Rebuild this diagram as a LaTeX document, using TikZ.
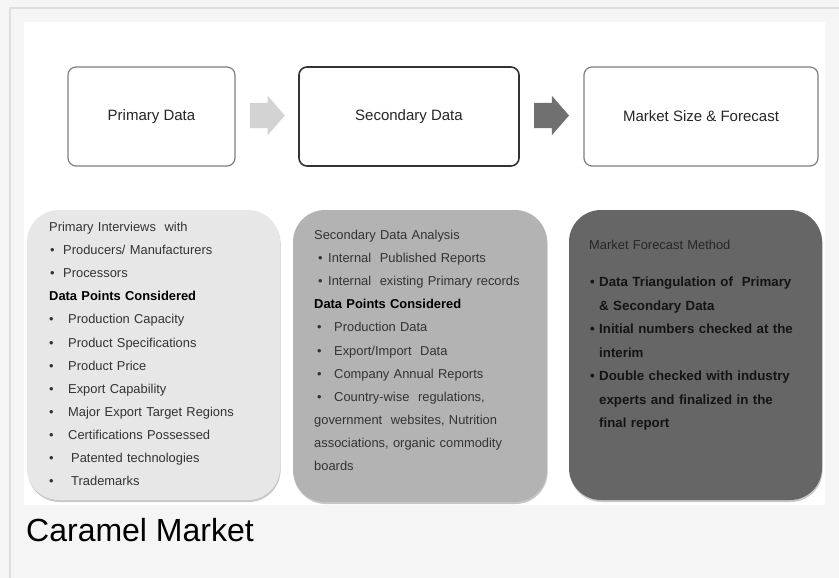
\documentclass[tikz,border=0pt]{standalone}
\usepackage{fontspec}
\setmainfont{Liberation Sans}
\usetikzlibrary{shapes.arrows,shadows,calc}
\definecolor{pagegray}{HTML}{F5F5F5}
\definecolor{framegray}{HTML}{DEDEDE}
\definecolor{edgegray}{HTML}{7F7F7F}
\definecolor{edgedark}{HTML}{333333}
\definecolor{panelone}{HTML}{E7E7E7}
\definecolor{paneltwo}{HTML}{B3B3B3}
\definecolor{panelthree}{HTML}{666666}
\definecolor{arrowlight}{HTML}{D3D3D3}
\definecolor{arrowdark}{HTML}{707070}
\definecolor{inkgray}{HTML}{333333}
\newcommand{\blt}[2]{\makebox[#1][l]{•}#2}

\begin{document}
\begin{tikzpicture}[x=1pt,y=-1pt,
  stage/.style={draw=#1,rounded corners=8pt,line width=1.2pt,fill=white,minimum height=99pt,inner sep=0pt,font=\fontsize{15}{18}\selectfont,text=black!85},
  panel/.style={fill=#1,rounded corners=32pt,inner sep=0pt,drop shadow={shadow xshift=0.6pt,shadow yshift=-2pt,fill=black,opacity=0.22}},
  paneltext/.style={anchor=base west,inner sep=0pt,align=left,text width=#1,font=\fontsize{12.9}{23.1}\selectfont,text=inkgray},
  blockarrow/.style={single arrow,fill=#1,anchor=tail,minimum height=35pt,inner xsep=0pt,inner ysep=12.5pt,text height=0pt,text depth=0pt,single arrow head extend=7pt,single arrow tip angle=98}]

  \useasboundingbox (0,0) rectangle (839,578);
  \fill [pagegray] (0,0) rectangle (839,578);
  \draw [framegray,line width=1.5pt] (10,578) -- (10,8) -- (839,8);
  \fill [white] (24,22) rectangle (825,505);

  \node [stage=edgegray,minimum width=167pt] (primary) at (151.5,116.5) {Primary Data};
  \node [stage=edgedark,line width=1.6pt,minimum width=220pt] (secondary) at (409,116.5) {Secondary Data};
  \node [stage=edgegray,minimum width=234pt] (market) at (701,116.5) {Market Size \& Forecast};
  \node [blockarrow=arrowlight] (arrowa) at ($(primary.east)+(14,-1)$) {};
  \node [blockarrow=arrowdark] (arrowb) at ($(secondary.east)+(14,-1)$) {};

  \node [panel=panelone,minimum width=253pt,minimum height=290pt] (primpanel) at (153.5,355) {};
  \node [panel=paneltwo,minimum width=254pt,minimum height=292pt] (secpanel) at (420,356) {};
  \node [panel=panelthree,minimum width=253pt,minimum height=290pt] (mktpanel) at (695.5,355) {};

  \node [paneltext=228pt] (primlist) at (49,231.5) {Primary Interviews\ \ with\\
    \hspace*{1pt}\blt{13pt}{Producers/ Manufacturers}\\
    \hspace*{1pt}\blt{13pt}{Processors}\\
    {\color{black}\bfseries Data Points Considered}\\
    \blt{19pt}{Production Capacity}\\
    \blt{19pt}{Product Specifications}\\
    \blt{19pt}{Product Price}\\
    \blt{19pt}{Export Capability}\\
    \blt{19pt}{Major Export Target Regions}\\
    \blt{19pt}{Certifications Possessed}\\
    \blt{22pt}{Patented technologies}\\
    \blt{22pt}{Trademarks}};

  \node [paneltext=230pt] (seclist) at (314,239.5) {Secondary Data Analysis\\
    \hspace*{4pt}\blt{10pt}{Internal\ \ Published Reports}\\
    \hspace*{4pt}\blt{10pt}{Internal\ \ existing Primary records}\\
    {\color{black}\bfseries Data Points Considered}\\
    \hspace*{3pt}\blt{17pt}{Production Data}\\
    \hspace*{3pt}\blt{17pt}{Export/Import\ \ Data}\\
    \hspace*{3pt}\blt{17pt}{Company Annual Reports}\\
    \hspace*{3pt}\blt{17pt}{Country-wise\ \ regulations,}\\
    government\ \ websites, Nutrition\\
    associations, organic commodity\\
    boards};

  \node [paneltext=225pt,text=black!85] (mkttitle) at (589,249.5) {Market Forecast Method};
  \node [paneltext=228pt,text=black!92,font=\fontsize{13.3}{23.5}\selectfont\bfseries] (mktlist) at (590,286.5) {\blt{9pt}{Data Triangulation of\ \ Primary}\\
    \hspace*{9pt}\& Secondary Data\\
    \blt{9pt}{Initial numbers checked at the}\\
    \hspace*{9pt}interim\\
    \blt{9pt}{Double checked with industry}\\
    \hspace*{9pt}experts and finalized in the\\
    \hspace*{9pt}final report};

  \node [anchor=base west,inner sep=0pt,font=\fontsize{32}{36}\selectfont] (caption) at (26,541) {Caramel Market};

\end{tikzpicture}
\end{document}
